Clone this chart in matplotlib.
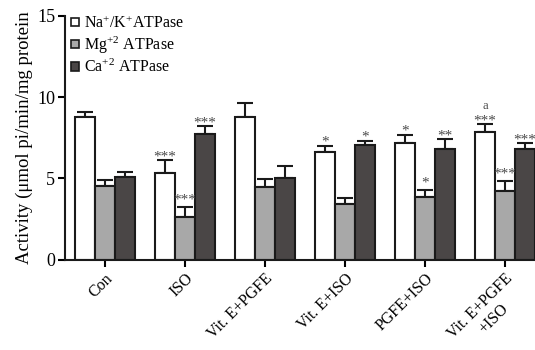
import matplotlib
matplotlib.use("Agg")
import matplotlib.pyplot as plt
from matplotlib.patches import Patch
from matplotlib.textpath import TextPath
from matplotlib.font_manager import FontProperties
import numpy as np

plt.rcParams['font.family'] = ['Liberation Serif', 'DejaVu Serif']
plt.rcParams['mathtext.fontset'] = 'custom'
plt.rcParams['mathtext.rm'] = 'Liberation Serif'
plt.rcParams['mathtext.it'] = 'Liberation Serif:italic'

groups = ["Con", "ISO", "Vit. E+PGFE", "Vit. E+ISO", "PGFE+ISO", "Vit. E+PGFE\n+ISO"]
series = [r"Na$^{+}$/K$^{+}$ATPase", r"Mg$^{+2}$ ATPase", r"Ca$^{+2}$ ATPase"]
na = [8.75, 5.35, 8.77, 6.6, 7.17, 7.87]
na_err = [0.33, 0.77, 0.89, 0.39, 0.5, 0.45]
mg = [4.53, 2.6, 4.46, 3.44, 3.84, 4.21]
mg_err = [0.37, 0.66, 0.52, 0.33, 0.43, 0.62]
ca = [5.08, 7.73, 5.04, 7.05, 6.8, 6.8]
ca_err = [0.29, 0.48, 0.69, 0.25, 0.62, 0.37]
na_sig = ["", "***", "", "*", "*", "***"]
mg_sig = ["", "***", "", "", "*", "***"]
ca_sig = ["", "***", "", "*", "**", "***"]
na_letter = ["", "", "", "", "", "a"]
colors = ["#FFFFFF", "#A8A8A8", "#4A4646"]
yticks = [0, 5, 10, 15]

fig = plt.figure(figsize=(5.35, 3.5), dpi=100)
ax = fig.add_axes([65/535, 1-259.5/350, (535-65)/535, (259.5-16)/350])

x = np.arange(len(groups))
w = 0.25
vals = [na, mg, ca]
errs = [na_err, mg_err, ca_err]
sigs = [na_sig, mg_sig, ca_sig]
offs = [0.0, 2.5, 0.0]  # points, baseline offset above error top
for i in range(3):
    pos = x + (i - 1) * w
    ax.bar(pos, vals[i], w, color=colors[i], edgecolor='#1a1a1a', linewidth=1.5, zorder=2)
    ax.errorbar(pos, vals[i], yerr=[np.zeros(len(x)), errs[i]], fmt='none',
                ecolor='#1a1a1a', elinewidth=1.5, capsize=5.5, capthick=1.5, zorder=1)
    for j, (p, v, e, s) in enumerate(zip(pos, vals[i], errs[i], sigs[i])):
        if s:
            ax.annotate(s, (p, v + e), xytext=(0, offs[i]), textcoords='offset points',
                        ha='center', va='baseline', fontsize=11, color='#4a4a4a')
        if i == 0 and na_letter[j]:
            ax.annotate(na_letter[j], (p, v + e), xytext=(0, offs[i] + 11),
                        textcoords='offset points', ha='center', va='baseline',
                        fontsize=9, color='#4a4a4a')

ax.set_xlim(-0.5, (535-105)/80)
ax.set_ylim(0, 15)
ax.set_yticks(yticks)
ax.set_yticklabels([str(t) for t in yticks], fontsize=13)

# x tick labels: first line as tick label, extra lines as separate texts
fs = 11.5
tick_len, tick_pad = 5, 3
first_lines = [g.split("\n")[0] for g in groups]
ax.set_xticks(x)
ax.set_xticklabels(first_lines, rotation=45, ha='right', rotation_mode='anchor', fontsize=fs)
fp = FontProperties(family='Liberation Serif', size=fs)
c = s_ = np.sqrt(0.5)
for xi, g in zip(x, groups):
    lines = g.split("\n")
    if len(lines) > 1:
        W = TextPath((0, 0), lines[0], prop=fp).get_extents().width
        for k, extra in enumerate(lines[1:], start=1):
            along = -W / 2
            perp = 0.57 * fs + k * 1.1 * fs
            dx = along * c + perp * s_
            dy = along * s_ - perp * c
            ax.annotate(extra, (xi, 0), xycoords=('data', 'axes fraction'),
                        xytext=(dx, -(tick_len + tick_pad) + dy), textcoords='offset points',
                        rotation=45, rotation_mode='anchor', ha='center', va='center',
                        fontsize=fs, annotation_clip=False)

ax.tick_params(axis='y', length=5, width=1.5, pad=2)
ax.tick_params(axis='x', length=tick_len, width=1.5, pad=tick_pad)
for s in ['top', 'right']:
    ax.spines[s].set_visible(False)
for s in ['left', 'bottom']:
    ax.spines[s].set_linewidth(1.5)
    ax.spines[s].set_color('#1a1a1a')
ax.set_ylabel("Activity (\u03bcmol pi/min/mg protein", fontsize=13.5, labelpad=3)

handles = [Patch(facecolor=c_, edgecolor='#1a1a1a', linewidth=1.2) for c_ in colors]
ax.legend(handles, series, loc='upper left', bbox_to_anchor=(-0.01, 1.05), frameon=False,
          fontsize=11.5, handlelength=0.45, handleheight=0.45, handletextpad=0.35,
          labelspacing=0.18, borderaxespad=0.3)

fig.savefig("out.png", dpi=100)
